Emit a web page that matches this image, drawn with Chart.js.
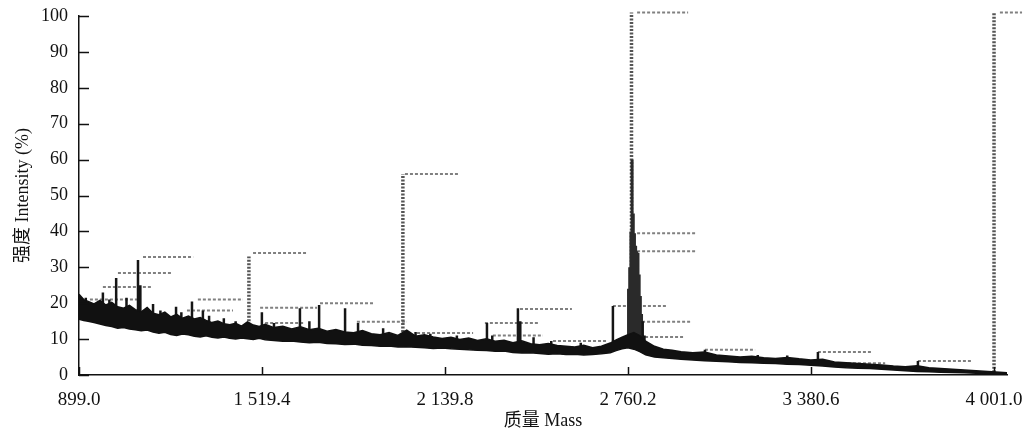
<!DOCTYPE html>
<html>
<head>
<meta charset="utf-8">
<script src="https://cdn.jsdelivr.net/npm/chart.js@4/dist/chart.umd.min.js"></script>
<style>
  html, body { margin: 0; padding: 0; background: #fff; }
  #wrap { width: 1033px; height: 433px; }
</style>
</head>
<body>
<div id="wrap"><canvas id="spectrum" width="1033" height="433"></canvas></div>
<script>
/* ---- data ---- */
const xTickValues = [899.0, 1519.4, 2139.8, 2760.2, 3380.6, 4001.0];
const xTickLabels = ['899.0', '1 519.4', '2 139.8', '2 760.2', '3 380.6', '4 001.0'];

// baseline noise band (lower / upper envelope)
const bandMass = [899, 915, 930, 950, 970, 990, 1010, 1030, 1050, 1070, 1090, 1110, 1130, 1150, 1170, 1190,
  1210, 1230, 1250, 1270, 1290, 1310, 1330, 1350, 1370, 1390, 1410, 1430, 1450, 1470, 1490, 1510, 1530,
  1560, 1590, 1620, 1650, 1680, 1710, 1740, 1770, 1800, 1830, 1860, 1890, 1920, 1950, 1980, 2010, 2040,
  2070, 2100, 2130, 2160, 2190, 2220, 2250, 2280, 2310, 2340, 2370, 2400, 2430, 2460, 2490, 2520, 2550,
  2580, 2610, 2640, 2670, 2700, 2720, 2740, 2760, 2780, 2800, 2820, 2850, 2880, 2910, 2940, 2980, 3020,
  3060, 3100, 3140, 3180, 3220, 3260, 3300, 3340, 3380, 3420, 3460, 3500, 3540, 3580, 3620, 3660, 3700,
  3740, 3780, 3820, 3860, 3900, 3940, 3980, 4020, 4045];
const bandLow = [15.5, 15.2, 15.0, 14.6, 14.2, 13.8, 13.5, 13.0, 13.2, 12.8, 12.6, 12.3, 12.5, 12.0, 11.6, 11.9,
  11.3, 11.0, 11.4, 11.2, 10.8, 10.6, 10.9, 10.5, 10.3, 10.6, 10.2, 10.0, 10.3, 10.1, 9.9, 10.2, 9.8,
  9.6, 9.4, 9.5, 9.2, 9.0, 9.1, 8.8, 8.7, 8.5, 8.6, 8.3, 8.2, 8.0, 8.1, 7.8, 7.9, 7.7,
  7.6, 7.4, 7.5, 7.3, 7.2, 7.0, 6.9, 6.8, 6.6, 6.7, 6.3, 6.1, 6.2, 6.0, 5.8, 5.9, 5.7,
  5.8, 5.6, 5.7, 5.9, 6.2, 6.8, 7.3, 7.6, 7.2, 6.5, 5.6, 5.0, 4.8, 4.6, 4.4, 4.2, 4.0,
  3.8, 3.7, 3.5, 3.4, 3.3, 3.2, 3.0, 2.9, 2.7, 2.5, 2.2, 2.0, 1.9, 1.8, 1.6, 1.4, 1.2,
  1.0, 0.9, 0.8, 0.7, 0.6, 0.5, 0.4, 0.3, 0.2];
const bandHigh = [22.5, 21.0, 20.5, 19.8, 20.8, 19.5, 20.2, 19.0, 18.6, 19.4, 18.2, 17.6, 18.8, 17.2, 16.8, 17.5,
  16.2, 16.9, 15.8, 16.4, 15.6, 16.0, 15.2, 14.6, 15.0, 14.3, 14.0, 14.4, 13.6, 14.8, 13.9, 13.5, 14.1,
  13.2, 13.6, 12.8, 13.4, 12.6, 13.0, 12.2, 12.7, 12.0, 11.8, 12.4, 11.5, 11.2, 11.8, 11.0, 12.5, 10.8,
  11.2, 10.6, 10.2, 10.5, 9.9, 10.3, 9.6, 10.1, 9.4, 9.7, 9.0, 9.5, 8.7, 8.4, 8.8, 8.2, 8.0,
  7.8, 8.3, 7.6, 8.0, 8.9, 9.8, 10.5, 11.2, 11.8, 11.0, 9.4, 8.0, 7.2, 6.9, 6.5, 6.2, 6.4,
  5.6, 5.3, 5.0, 5.2, 4.8, 4.6, 4.9, 4.5, 4.2, 4.4, 3.6, 3.4, 3.2, 3.0, 2.8, 2.5, 2.3,
  2.6, 2.0, 1.8, 1.6, 1.4, 1.2, 1.0, 0.8, 0.6];

// small peaks (solid black)
const minorMass = [922, 945, 980, 1002, 1025, 1060, 1099, 1107, 1150, 1175, 1228, 1246, 1282, 1319, 1340,
  1390, 1430, 1519, 1560, 1648, 1680, 1713, 1801, 1845, 1930, 2040, 2090, 2180, 2282, 2300,
  2387, 2395, 2440, 2500, 2600, 2709, 2810, 2816, 3021, 3200, 3300, 3404, 3438, 3743];
const minorTop  = [21.5, 20, 23, 21, 27, 21.5, 32, 25, 19.8, 18, 19, 17.5, 20.5, 18, 16.5,
  15.8, 15, 17.5, 14.5, 18.6, 15, 19.5, 18.6, 14.5, 13, 12, 11.5, 11, 14.5, 11,
  18.6, 15, 10.5, 9.5, 9, 19.2, 15, 11, 7, 5.6, 5.4, 6.4, 3.3, 3.9];
const minorBase = [18, 17, 17, 16, 16, 15, 14, 14, 15, 14, 14, 13, 13, 13, 12,
  12, 12, 12, 11, 11, 11, 11, 10.5, 10, 9.5, 9, 9, 8.5, 8.5, 8.5,
  8, 8, 7.5, 7, 6.5, 8, 9, 9, 5.5, 4.5, 4.5, 3.5, 3, 2];

// dense cluster next to the base peak
const clusterMass = [2762, 2766, 2770, 2774, 2778, 2782, 2786, 2790, 2794, 2798, 2802, 2806];
const clusterTop  = [24, 30, 40, 60, 45, 39.5, 36, 34.5, 34, 28, 22, 17];
const clusterBase = [10, 10, 10, 10, 10, 10, 10, 10, 10, 9.5, 9, 8.5];

// tall peaks (dotted grey)
const majorMass = [1475, 1997, 2772, 4001];
const majorTop  = [33, 56, 101, 101];
const majorBase = [13, 11, 11, 0.8];

// peak annotation strips: start mass, end mass, intensity
const noteStart = [1116, 1031, 980, 936, 1302, 1265, 1489, 1513, 1530, 1716, 1841, 2004, 2045, 2275, 2302,
  2394, 2506, 2709, 2791, 2791, 2791, 2808, 2818, 3021, 3404, 3438, 3743, 4021];
const noteEnd   = [1286, 1214, 1146, 1096, 1455, 1421, 1672, 1706, 1665, 1896, 2011, 2184, 2235, 2455, 2472,
  2570, 2689, 2893, 2964, 2994, 2994, 2977, 2947, 3191, 3588, 3632, 3926, 4096];
const noteLevel = [32.9, 28.4, 24.5, 21, 21, 18, 34, 18.7, 14.5, 20, 14.8, 56, 11.7, 14.5, 11,
  18.4, 9.5, 19.2, 101, 39.5, 34.5, 14.8, 10.6, 7, 6.4, 3.3, 3.9, 101];

/* ---- helpers ---- */
function sticks(mass, top, base) {
  const pts = [];
  mass.forEach((m, i) => {
    pts.push({ x: m, y: base[i] }, { x: m, y: top[i] }, { x: m, y: null });
  });
  return pts;
}
function strips(start, end, level) {
  const pts = [];
  start.forEach((s, i) => {
    pts.push({ x: s, y: level[i] }, { x: end[i], y: level[i] }, { x: end[i], y: null });
  });
  return pts;
}

const serif = '"Liberation Serif", "Noto Sans CJK SC", serif';

/* inward tick marks, like the printed figure */
const innerTicks = {
  id: 'innerTicks',
  afterDraw(chart) {
    const { ctx, chartArea } = chart;
    const xs = chart.scales.x, ys = chart.scales.y;
    ctx.save();
    ctx.strokeStyle = '#111';
    ctx.lineWidth = 1.5;
    ctx.beginPath();
    ys.ticks.forEach(t => {
      const py = Math.round(ys.getPixelForValue(t.value)) + 0.5;
      ctx.moveTo(chartArea.left, py);
      ctx.lineTo(chartArea.left + 10, py);
    });
    xs.ticks.forEach(t => {
      const px = Math.round(xs.getPixelForValue(t.value)) + 0.5;
      ctx.moveTo(px, chartArea.bottom);
      ctx.lineTo(px, chartArea.bottom - 8);
    });
    ctx.stroke();
    ctx.restore();
  }
};

new Chart(document.getElementById('spectrum'), {
  type: 'scatter',
  data: {
    datasets: [
      {
        label: 'low',
        data: bandMass.map((m, i) => ({ x: m, y: bandLow[i] })),
        showLine: true, borderColor: '#111', borderWidth: 1.5, pointRadius: 0,
        fill: false, tension: 0, order: 1
      },
      {
        label: 'high',
        data: bandMass.map((m, i) => ({ x: m, y: bandHigh[i] })),
        showLine: true, borderColor: '#111', borderWidth: 1.5, pointRadius: 0,
        backgroundColor: '#111', fill: '-1', tension: 0, order: 0
      },
      {
        label: 'minor',
        data: sticks(minorMass, minorTop, minorBase),
        showLine: true, spanGaps: false, borderColor: '#151515', borderWidth: 2.5, pointRadius: 0, order: 2
      },
      {
        label: 'cluster',
        data: sticks(clusterMass, clusterTop, clusterBase),
        showLine: true, spanGaps: false, borderColor: '#2a2a2a', borderWidth: 3, pointRadius: 0, order: 3
      },
      {
        label: 'major',
        data: sticks(majorMass, majorTop, majorBase),
        showLine: true, spanGaps: false, borderColor: '#555', borderWidth: 3.5, borderDash: [2, 1.5],
        pointRadius: 0, clip: false, order: 4
      },
      {
        label: 'notes',
        data: strips(noteStart, noteEnd, noteLevel),
        showLine: true, spanGaps: false, borderColor: '#808080', borderWidth: 2, borderDash: [3, 2],
        pointRadius: 0, clip: false, order: 5
      }
    ]
  },
  options: {
    responsive: false,
    animation: false,
    events: [],
    layout: { padding: { top: 16, right: 26, bottom: 0, left: 0 } },
    plugins: { legend: { display: false }, tooltip: { enabled: false } },
    scales: {
      x: {
        type: 'linear', min: 899, max: 4045,
        afterBuildTicks: s => { s.ticks = xTickValues.map(v => ({ value: v })); },
        afterFit: s => { s.height = 58; s.paddingLeft = 0; s.paddingRight = 0; },
        grid: { display: false, drawTicks: false },
        border: { display: true, color: '#111', width: 1.5 },
        ticks: {
          color: '#111', padding: 14, maxRotation: 0, autoSkip: false,
          font: { family: serif, size: 19 },
          callback: (v, i) => xTickLabels[i]
        },
        title: {
          display: true, text: '质量 Mass', color: '#111',
          font: { family: serif, size: 18 }, padding: { top: 0, bottom: 1 }
        }
      },
      y: {
        min: 0, max: 100,
        afterFit: s => { s.width = 79; s.paddingTop = 0; s.paddingBottom = 0; },
        grid: { display: false, drawTicks: false },
        border: { display: true, color: '#111', width: 1.5 },
        ticks: { stepSize: 10, color: '#111', padding: 11, font: { family: serif, size: 18 } },
        title: {
          display: true, text: '强度 Intensity (%)', color: '#111',
          font: { family: serif, size: 18 }, padding: { top: 12, bottom: 0 }
        }
      }
    }
  },
  plugins: [innerTicks]
});
</script>
</body>
</html>
